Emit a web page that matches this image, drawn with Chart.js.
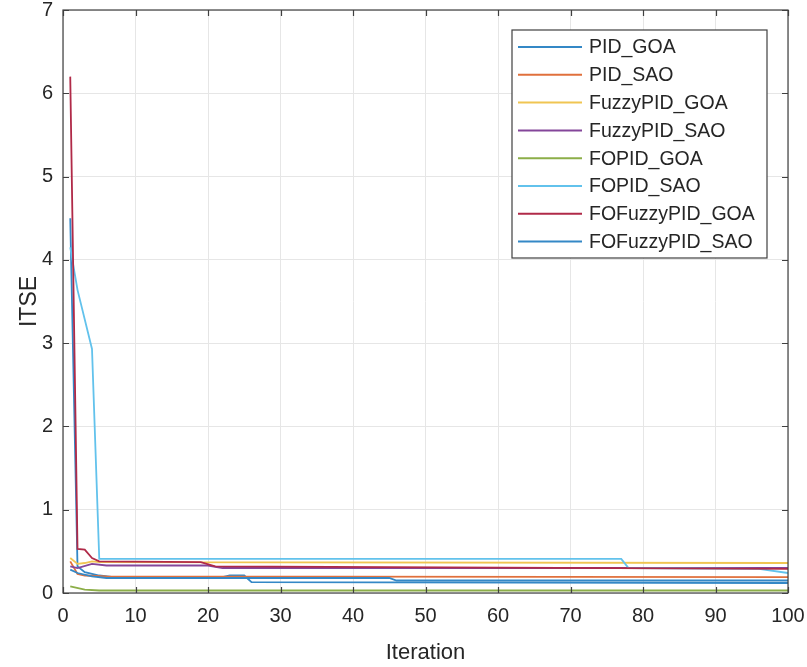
<!DOCTYPE html>
<html>
<head>
<meta charset="utf-8">
<script src="https://cdn.jsdelivr.net/npm/chart.js@4.4.1/dist/chart.umd.min.js"></script>
<style>
  html, body { margin: 0; padding: 0; background: #fff; }
</style>
</head>
<body>
<canvas id="myChart" width="807" height="667"></canvas>
<script>
// series names, in legend order
const labels = ['PID_GOA', 'PID_SAO', 'FuzzyPID_GOA', 'FuzzyPID_SAO',
  'FOPID_GOA', 'FOPID_SAO', 'FOFuzzyPID_GOA', 'FOFuzzyPID_SAO'];
const colors = ['#3488c6', '#e0703c', '#f0c552', '#84469a',
  '#8cae48', '#62c2ec', '#b02a48', '#3488c6'];

// [iteration, ITSE] at the break points of each curve
const pidGoa = [[1, 4.5], [2, 0.32], [3, 0.25], [5, 0.21], [7, 0.19], [22, 0.19],
  [23, 0.21], [25, 0.21], [26, 0.13], [100, 0.12]];
const pidSao = [[1, 0.38], [2, 0.23], [3, 0.21], [6, 0.2], [100, 0.19]];
const fuzzyGoa = [[1, 0.42], [2, 0.35], [3, 0.36], [4, 0.38], [5, 0.37], [100, 0.36]];
const fuzzySao = [[1, 0.32], [2, 0.3], [4, 0.35], [6, 0.33], [20, 0.33], [22, 0.3], [100, 0.3]];
const fopidGoa = [[1, 0.08], [3, 0.04], [5, 0.03], [100, 0.03]];
const fopidSao = [[1, 4.15], [2, 3.64], [4, 2.93], [5, 0.41], [77, 0.41], [78, 0.3],
  [96, 0.29], [100, 0.24]];
const foFuzzyGoa = [[1, 6.2], [2, 0.53], [3, 0.52], [4, 0.42], [5, 0.38], [19, 0.37],
  [21, 0.32], [100, 0.29]];
const foFuzzySao = [[1, 0.28], [2, 0.24], [4, 0.2], [6, 0.18], [45, 0.18], [46, 0.15],
  [100, 0.15]];

const series = [pidGoa, pidSao, fuzzyGoa, fuzzySao, fopidGoa, fopidSao, foFuzzyGoa, foFuzzySao];

const xTicks = [0, 10, 20, 30, 40, 50, 60, 70, 80, 90, 100];
const yTicks = [0, 1, 2, 3, 4, 5, 6, 7];

const textColor = '#262626';
const tickFont = { family: "'Liberation Sans', Arial, sans-serif", size: 20 };

// matlab style box with inward ticks
const boxPlugin = {
  id: 'box',
  afterDatasetsDraw(chart) {
    const { ctx, chartArea: a, scales } = chart;
    ctx.save();
    ctx.strokeStyle = '#404040';
    ctx.lineWidth = 1.2;
    ctx.strokeRect(a.left, a.top, a.right - a.left, a.bottom - a.top);
    ctx.beginPath();
    xTicks.forEach(v => {
      const px = Math.round(scales.x.getPixelForValue(v)) + 0.5;
      ctx.moveTo(px, a.bottom); ctx.lineTo(px, a.bottom - 6);
      ctx.moveTo(px, a.top); ctx.lineTo(px, a.top + 6);
    });
    yTicks.forEach(v => {
      const py = Math.round(scales.y.getPixelForValue(v)) + 0.5;
      ctx.moveTo(a.left, py); ctx.lineTo(a.left + 6, py);
      ctx.moveTo(a.right, py); ctx.lineTo(a.right - 6, py);
    });
    ctx.stroke();
    ctx.restore();
  }
};

// legend box in the upper right corner
const legendPlugin = {
  id: 'boxLegend',
  afterDraw(chart) {
    const ctx = chart.ctx;
    const x0 = 512, y0 = 30, w = 255, h = 228, step = 27.8;
    ctx.save();
    ctx.fillStyle = '#fff';
    ctx.fillRect(x0, y0, w, h);
    ctx.strokeStyle = '#404040';
    ctx.lineWidth = 1.2;
    ctx.strokeRect(x0, y0, w, h);
    ctx.font = "19.5px 'Liberation Sans', Arial, sans-serif";
    ctx.textBaseline = 'middle';
    chart.data.datasets.forEach((ds, i) => {
      const y = y0 + 17 + i * step;
      ctx.strokeStyle = ds.borderColor;
      ctx.lineWidth = 2;
      ctx.beginPath();
      ctx.moveTo(x0 + 6, y); ctx.lineTo(x0 + 70, y);
      ctx.stroke();
      ctx.fillStyle = textColor;
      ctx.fillText(ds.label, x0 + 77, y + 1);
    });
    ctx.restore();
  }
};

const ctx = document.getElementById('myChart').getContext('2d');
const myChart = new Chart(ctx, {
  type: 'line',
  data: {
    datasets: series.map((d, i) => ({
      label: labels[i],
      data: d,
      borderColor: colors[i],
      borderWidth: 1.8,
      pointRadius: 0,
      tension: 0,
      order: -i
    }))
  },
  options: {
    responsive: false,
    animation: false,
    layout: { padding: 0 },
    plugins: { legend: { display: false }, tooltip: { enabled: false } },
    scales: {
      x: {
        type: 'linear', min: 0, max: 100,
        afterBuildTicks: s => { s.ticks = xTicks.map(v => ({ value: v })); },
        afterFit: s => { s.height = 74; s.paddingLeft = 0; s.paddingRight = 19; },
        grid: { color: '#e6e6e6', drawTicks: false },
        border: { display: false },
        ticks: { color: textColor, font: tickFont, padding: 11, maxRotation: 0 },
        title: { display: true, text: 'Iteration', color: textColor,
          font: { family: "'Liberation Sans', Arial, sans-serif", size: 22 }, padding: { top: 0, bottom: 1 } }
      },
      y: {
        min: 0, max: 7,
        afterBuildTicks: s => { s.ticks = yTicks.map(v => ({ value: v })); },
        afterFit: s => { s.width = 63; s.paddingTop = 10; s.paddingBottom = 0; },
        grid: { color: '#e6e6e6', drawTicks: false },
        border: { display: false },
        ticks: { color: textColor, font: tickFont, padding: 10 },
        title: { display: true, text: 'ITSE', color: textColor,
          font: { family: "'Liberation Sans', Arial, sans-serif", size: 23 }, padding: { top: 16, bottom: 0 } }
      }
    }
  },
  plugins: [boxPlugin, legendPlugin]
});
</script>
</body>
</html>
